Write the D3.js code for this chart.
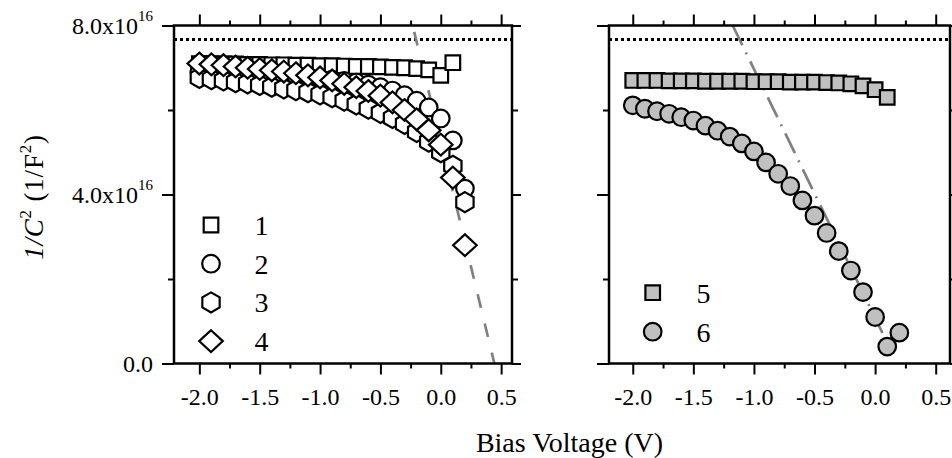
<!DOCTYPE html>
<html>
<head>
<meta charset="utf-8">
<script src="https://cdn.jsdelivr.net/npm/d3@7"></script>
<style>
  html, body { margin: 0; padding: 0; background: #fff; }
  svg { display: block; }
  svg text { font-family: "Liberation Serif", "Times New Roman", Times, serif; }
</style>
</head>
<body>
<svg id="chart" width="952" height="458"></svg>
<script>
(() => {
    'use strict';

    // values are in units of 10^16 1/F^2
    const voltsA = [-2.0, -1.9, -1.8, -1.7, -1.6, -1.5, -1.4, -1.3, -1.2, -1.1, -1.0,
                    -0.9, -0.8, -0.7, -0.6, -0.5, -0.4, -0.3, -0.2, -0.1, 0.0, 0.1];
    const voltsB = [-2.0, -1.9, -1.8, -1.7, -1.6, -1.5, -1.4, -1.3, -1.2, -1.1, -1.0,
                    -0.9, -0.8, -0.7, -0.6, -0.5, -0.4, -0.3, -0.2, -0.1, 0.0, 0.1, 0.2];

    const s1 = [7.10, 7.10, 7.09, 7.09, 7.08, 7.08, 7.07, 7.07, 7.06, 7.06, 7.05,
                7.05, 7.04, 7.03, 7.03, 7.02, 7.01, 7.00, 6.98, 6.95, 6.82, 7.12];
    const s2 = [6.92, 6.91, 6.90, 6.89, 6.87, 6.86, 6.84, 6.82, 6.80, 6.78, 6.75,
                6.72, 6.69, 6.65, 6.60, 6.54, 6.46, 6.35, 6.22, 6.06, 5.80, 5.28, 4.14];
    const s3 = [6.76, 6.73, 6.70, 6.66, 6.63, 6.59, 6.55, 6.51, 6.47, 6.42, 6.37,
                6.30, 6.22, 6.13, 6.03, 5.93, 5.81, 5.67, 5.48, 5.25, 5.00, 4.68, 3.82];
    const s4 = [7.10, 7.08, 7.06, 7.03, 7.00, 6.97, 6.94, 6.91, 6.87, 6.82, 6.77,
                6.70, 6.62, 6.54, 6.45, 6.34, 6.18, 6.00, 5.78, 5.52, 5.18, 4.40, 2.80];
    const s5 = [6.70, 6.70, 6.70, 6.69, 6.69, 6.69, 6.68, 6.68, 6.68, 6.68, 6.67,
                6.67, 6.67, 6.66, 6.66, 6.66, 6.65, 6.64, 6.62, 6.57, 6.48, 6.30];
    const s6 = [6.11, 6.03, 5.97, 5.91, 5.83, 5.75, 5.63, 5.51, 5.37, 5.21, 5.02,
                4.76, 4.49, 4.20, 3.86, 3.50, 3.09, 2.66, 2.20, 1.69, 1.10, 0.40, 0.73];

    const refLevel = 7.67;
    const fitLeftX = [-0.22, 0.444], fitLeftY = [7.85, 0];
    const fitRightX = [-1.175, 0.09], fitRightY = [8.0, 0.55];

    const xMajor = [-2.0, -1.5, -1.0, -0.5, 0.0, 0.5];
    const xMinor = [-1.75, -1.25, -0.75, -0.25, 0.25];
    const yMajor = [0, 4, 8];
    const yMinor = [2, 6];
    const yTickText = ['0.0', '4.0x10', '8.0x10'];

    const serif = '"Liberation Serif", "Times New Roman", Times, serif';
    const svg = d3.select('#chart');
    const top = 25.5, bottom = 363.5;
    const y = d3.scaleLinear().domain([0, 8]).range([bottom, top]);

    const shapes = {
        square: (p, r) => { p.rect(-r, -r, 2 * r, 2 * r); },
        circle: (p, r) => { p.moveTo(r, 0); p.arc(0, 0, r, 0, 2 * Math.PI); },
        hexagon: (p, r) => {
            for (let i = 0; i < 6; i++) {
                const a = Math.PI / 3 * i - Math.PI / 2;
                if (i === 0) p.moveTo(r * Math.cos(a), r * Math.sin(a));
                else p.lineTo(r * Math.cos(a), r * Math.sin(a));
            }
            p.closePath();
        },
        diamond: (p, r) => {
            p.moveTo(0, -r * 0.92); p.lineTo(r, 0); p.lineTo(0, r * 0.92); p.lineTo(-r, 0); p.closePath();
        }
    };
    const shapePath = (kind, r) => { const p = d3.path(); shapes[kind](p, r); return p.toString(); };

    const panels = [
        { x0: 174, x1: 512, domain: [-2.21, 0.59], yLabels: true,
          series: [
              { xs: voltsA, ys: s1, kind: 'square', r: 7.3, fill: '#fff' },
              { xs: voltsB, ys: s2, kind: 'circle', r: 8.8, fill: '#fff' },
              { xs: voltsB, ys: s3, kind: 'hexagon', r: 10, fill: '#fff' },
              { xs: voltsB, ys: s4, kind: 'diamond', r: 11.8, fill: '#fff' }
          ],
          fit: { xs: fitLeftX, ys: fitLeftY, dash: '14,16' },
          legend: { x: 211, tx: 254.5, y0: 225, dy: 38.7, names: ['1', '2', '3', '4'] } },
        { x0: 609, x1: 950, domain: [-2.196, 0.618], yLabels: false,
          series: [
              { xs: voltsA, ys: s5, kind: 'square', r: 7.3, fill: '#c0c0c0' },
              { xs: voltsB, ys: s6, kind: 'circle', r: 8.8, fill: '#c0c0c0' }
          ],
          fit: { xs: fitRightX, ys: fitRightY, dash: '22,8,2,8' },
          legend: { x: 652.7, tx: 696.5, y0: 292.7, dy: 39, names: ['5', '6'] } }
    ];

    panels.forEach(pn => {
        const x = d3.scaleLinear().domain(pn.domain).range([pn.x0, pn.x1]);
        const g = svg.append('g');

        // ticks: bottom/top, left/right, all outward
        const axes = [
            [d3.axisBottom(x).tickValues(xMajor).tickSize(11).tickPadding(13).tickFormat(d => d.toFixed(1)), `translate(0,${bottom})`, true],
            [d3.axisBottom(x).tickValues(xMinor).tickSize(5).tickFormat(''), `translate(0,${bottom})`, false],
            [d3.axisTop(x).tickValues(xMajor).tickSize(11).tickFormat(''), `translate(0,${top})`, false],
            [d3.axisTop(x).tickValues(xMinor).tickSize(5).tickFormat(''), `translate(0,${top})`, false],
            [d3.axisLeft(y).tickValues(yMajor).tickSize(12).tickFormat(''), `translate(${pn.x0},0)`, false],
            [d3.axisLeft(y).tickValues(yMinor).tickSize(6).tickFormat(''), `translate(${pn.x0},0)`, false],
            [d3.axisRight(y).tickValues(yMajor).tickSize(9).tickFormat(''), `translate(${pn.x1},0)`, false],
            [d3.axisRight(y).tickValues(yMinor).tickSize(6).tickFormat(''), `translate(${pn.x1},0)`, false]
        ];
        axes.forEach(([ax, tr, labels]) => {
            const a = g.append('g').attr('transform', tr).call(ax);
            a.select('.domain').remove();
            a.attr('font-family', serif);
            a.selectAll('line').attr('stroke', '#000').attr('stroke-width', 2);
            if (labels) {
                a.selectAll('text').attr('font-size', 24).attr('fill', '#000');
            }
        });

        if (pn.yLabels) {
            yMajor.forEach((v, i) => {
                const t = g.append('text')
                    .attr('x', 153).attr('y', y(v) + 8)
                    .attr('text-anchor', 'end').attr('font-size', 24);
                t.append('tspan').text(yTickText[i]);
                if (v !== 0) {
                    t.append('tspan').attr('font-size', 15).attr('dy', -13).text('16');
                }
            });
        }

        // dotted reference level
        g.append('line')
            .attr('x1', pn.x0).attr('x2', pn.x1)
            .attr('y1', y(refLevel)).attr('y2', y(refLevel))
            .attr('stroke', '#000').attr('stroke-width', 3)
            .attr('stroke-dasharray', '3,3');

        // fit line
        g.append('path')
            .datum(pn.fit.xs.map((v, i) => [v, pn.fit.ys[i]]))
            .attr('d', d3.line().x(d => x(d[0])).y(d => y(d[1])))
            .attr('fill', 'none').attr('stroke', '#808080').attr('stroke-width', 2.7)
            .attr('stroke-dasharray', pn.fit.dash);

        // data markers
        pn.series.forEach(s => {
            const d = shapePath(s.kind, s.r);
            g.append('g').selectAll('path')
                .data(s.xs.map((v, i) => [v, s.ys[i]]))
                .enter()
                .append('path')
                .attr('d', d)
                .attr('transform', p => `translate(${x(p[0])},${y(p[1])})`)
                .attr('fill', s.fill).attr('stroke', '#000').attr('stroke-width', 2.2);
        });

        // legend
        pn.series.forEach((s, i) => {
            const ly = pn.legend.y0 + i * pn.legend.dy;
            g.append('path')
                .attr('d', shapePath(s.kind, s.r))
                .attr('transform', `translate(${pn.legend.x},${ly})`)
                .attr('fill', s.fill).attr('stroke', '#000').attr('stroke-width', 2.2);
            g.append('text')
                .attr('x', pn.legend.tx).attr('y', ly + 10)
                .attr('font-size', 28).text(pn.legend.names[i]);
        });

        // frame
        g.append('rect')
            .attr('x', pn.x0).attr('y', top)
            .attr('width', pn.x1 - pn.x0).attr('height', bottom - top)
            .attr('fill', 'none').attr('stroke', '#000').attr('stroke-width', 2.5);
    });

    // axis titles
    svg.append('text')
        .attr('x', 569.5).attr('y', 452)
        .attr('text-anchor', 'middle').attr('font-size', 28)
        .text('Bias Voltage (V)');

    const yl = svg.append('text')
        .attr('transform', 'translate(43,197) rotate(-90)')
        .attr('text-anchor', 'middle').attr('font-size', 27)
        .attr('letter-spacing', 0.8);
    yl.append('tspan').attr('font-style', 'italic').text('1/C');
    yl.append('tspan').attr('font-size', 17).attr('dy', -12).text('2');
    yl.append('tspan').attr('dy', 12).text(' (1/F');
    yl.append('tspan').attr('font-size', 17).attr('dy', -12).text('2');
    yl.append('tspan').attr('dy', 12).text(')');

    svg.selectAll('text').attr('font-family', serif);
})();
</script>
</body>
</html>
